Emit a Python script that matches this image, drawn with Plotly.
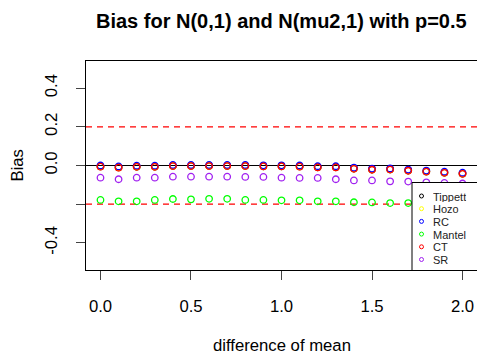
import plotly.graph_objects as go

# Difference between the two component means
diff_mean = [0.0, 0.1, 0.2, 0.3, 0.4, 0.5, 0.6, 0.7, 0.8, 0.9, 1.0,
             1.1, 1.2, 1.3, 1.4, 1.5, 1.6, 1.7, 1.8, 1.9, 2.0]

# Bias of each estimator
tippett = [-0.005, -0.010, -0.006, -0.006, -0.002, -0.002, -0.002, -0.002, -0.002, -0.004, -0.004,
           -0.005, -0.009, -0.009, -0.016, -0.021, -0.020, -0.026, -0.031, -0.037, -0.042]
hozo = [-0.005, -0.010, -0.006, -0.006, -0.002, -0.002, -0.002, -0.002, -0.002, -0.004, -0.004,
        -0.005, -0.009, -0.009, -0.016, -0.021, -0.020, -0.026, -0.031, -0.037, -0.042]
rc = [0.000, -0.005, -0.001, -0.001, 0.003, 0.003, 0.003, 0.003, 0.003, 0.001, 0.001,
      0.000, -0.004, -0.004, -0.011, -0.016, -0.015, -0.021, -0.026, -0.032, -0.037]
mantel = [-0.178, -0.185, -0.185, -0.178, -0.173, -0.175, -0.172, -0.172, -0.178, -0.178, -0.180,
          -0.180, -0.185, -0.185, -0.190, -0.191, -0.194, -0.194, -0.197, -0.200, -0.202]
ct = [-0.006, -0.011, -0.007, -0.007, -0.003, -0.003, -0.003, -0.003, -0.003, -0.005, -0.005,
      -0.006, -0.010, -0.010, -0.017, -0.022, -0.021, -0.027, -0.032, -0.038, -0.043]
sr = [-0.063, -0.071, -0.063, -0.063, -0.058, -0.058, -0.058, -0.058, -0.059, -0.059, -0.063,
      -0.064, -0.064, -0.071, -0.077, -0.077, -0.082, -0.083, -0.087, -0.090, -0.093]

series_names = ["Tippett", "Hozo", "RC", "Mantel", "CT", "SR"]
series_values = [tippett, hozo, rc, mantel, ct, sr]
series_colors = ["#000000", "#FFFF00", "#0000FF", "#00FF00", "#FF0000", "#A020F0"]

x_ticks = [0.0, 0.5, 1.0, 1.5, 2.0]
x_ticktext = ["0.0", "0.5", "1.0", "1.5", "2.0"]
y_ticks = [-0.4, -0.2, 0.0, 0.2, 0.4]
y_ticktext = ["-0.4", "", "0.0", "0.2", "0.4"]
ref_levels = [-0.2, 0.2]

FONT = "Liberation Sans, Arial, sans-serif"
W, H = 477, 358
ML, MR, MT, MB = 86, 0, 61, 88

fig = go.Figure()

for name, vals, col in zip(series_names, series_values, series_colors):
    fig.add_trace(go.Scatter(
        x=diff_mean, y=vals, mode="markers", name=name,
        marker=dict(symbol="circle-open", size=6.5, color=col, line=dict(width=1.3, color=col)),
        showlegend=False, cliponaxis=True,
    ))

# Reference lines
fig.add_shape(type="line", xref="x domain", yref="y", x0=0, x1=1, y0=0, y1=0,
              line=dict(color="black", width=1.2), layer="below")
for lv in ref_levels:
    fig.add_shape(type="line", xref="x domain", yref="y", x0=0, x1=1, y0=lv, y1=lv,
                  line=dict(color="#FF0000", width=1.3, dash="6px,5px"), layer="below")

# Legend box drawn in pixel coordinates on an overlay subplot
px_left, px_right = ML, W - MR
px_top, px_bottom = MT, H - MB
box_l, box_t = 412, 182.5
fig.add_trace(go.Scatter(
    x=[box_l, px_right + 5, px_right + 5, box_l, box_l],
    y=[box_t, box_t, px_bottom + 5, px_bottom + 5, box_t],
    mode="lines", fill="toself", fillcolor="white",
    line=dict(color="black", width=1), xaxis="x2", yaxis="y2",
    showlegend=False, hoverinfo="skip",
))
row0, row_step = 196.0, 12.7
sym_x, txt_x = 421.5, 432
rows = [row0 + i * row_step for i in range(len(series_names))]
fig.add_trace(go.Scatter(
    x=[sym_x] * len(rows), y=rows, mode="markers",
    marker=dict(symbol="circle-open", size=4, color=series_colors,
                line=dict(width=1, color=series_colors)),
    xaxis="x2", yaxis="y2", showlegend=False, hoverinfo="skip",
))
for name, yy in zip(series_names, rows):
    fig.add_annotation(x=txt_x, y=yy, xref="x2", yref="y2", text=name, showarrow=False,
                       xanchor="left", yanchor="middle", height=11, borderpad=0,
                       font=dict(family=FONT, size=11, color="#222222"))

# Title and axis titles
fig.add_annotation(text="<b>Bias for N(0,1) and N(mu2,1) with p=0.5</b>",
                   xref="paper", yref="paper", x=0.5, y=(px_bottom - 21) / (px_bottom - px_top),
                   xanchor="center", yanchor="middle", showarrow=False,
                   font=dict(family=FONT, size=20, color="black"))
fig.add_annotation(text="difference of mean", xref="paper", yref="paper",
                   x=0.5, y=(px_bottom - 345) / (px_bottom - px_top),
                   xanchor="center", yanchor="middle", showarrow=False,
                   font=dict(family=FONT, size=16.7, color="black"))
fig.add_annotation(text="Bias", xref="paper", yref="paper", textangle=-90,
                   x=(17 - px_left) / (px_right - px_left), y=0.5,
                   xanchor="center", yanchor="middle", showarrow=False,
                   font=dict(family=FONT, size=16.7, color="black"))

fig.update_layout(
    width=W, height=H, margin=dict(l=ML, r=MR, t=MT, b=MB, autoexpand=False),
    paper_bgcolor="white", plot_bgcolor="white", showlegend=False,
    font=dict(family=FONT, size=16.7, color="black"),
    xaxis=dict(range=[-0.08, 2.08], tickvals=x_ticks, ticktext=x_ticktext,
               showgrid=False, zeroline=False, showline=True, mirror=True,
               linecolor="black", linewidth=1, ticks="outside", ticklen=9,
               tickcolor="#444444", tickwidth=1, ticklabelstandoff=12),
    yaxis=dict(range=[-0.54, 0.54], tickvals=y_ticks, ticktext=y_ticktext,
               showgrid=False, zeroline=False, showline=True, mirror=True,
               linecolor="black", linewidth=1, ticks="outside", ticklen=9,
               tickcolor="#444444", tickwidth=1, tickangle=-90, ticklabelstandoff=12),
    xaxis2=dict(overlaying="x", range=[px_left, px_right], visible=False, fixedrange=True),
    yaxis2=dict(overlaying="y", range=[px_bottom, px_top], visible=False, fixedrange=True),
)

fig.write_html("out.html", config={"displayModeBar": False})
